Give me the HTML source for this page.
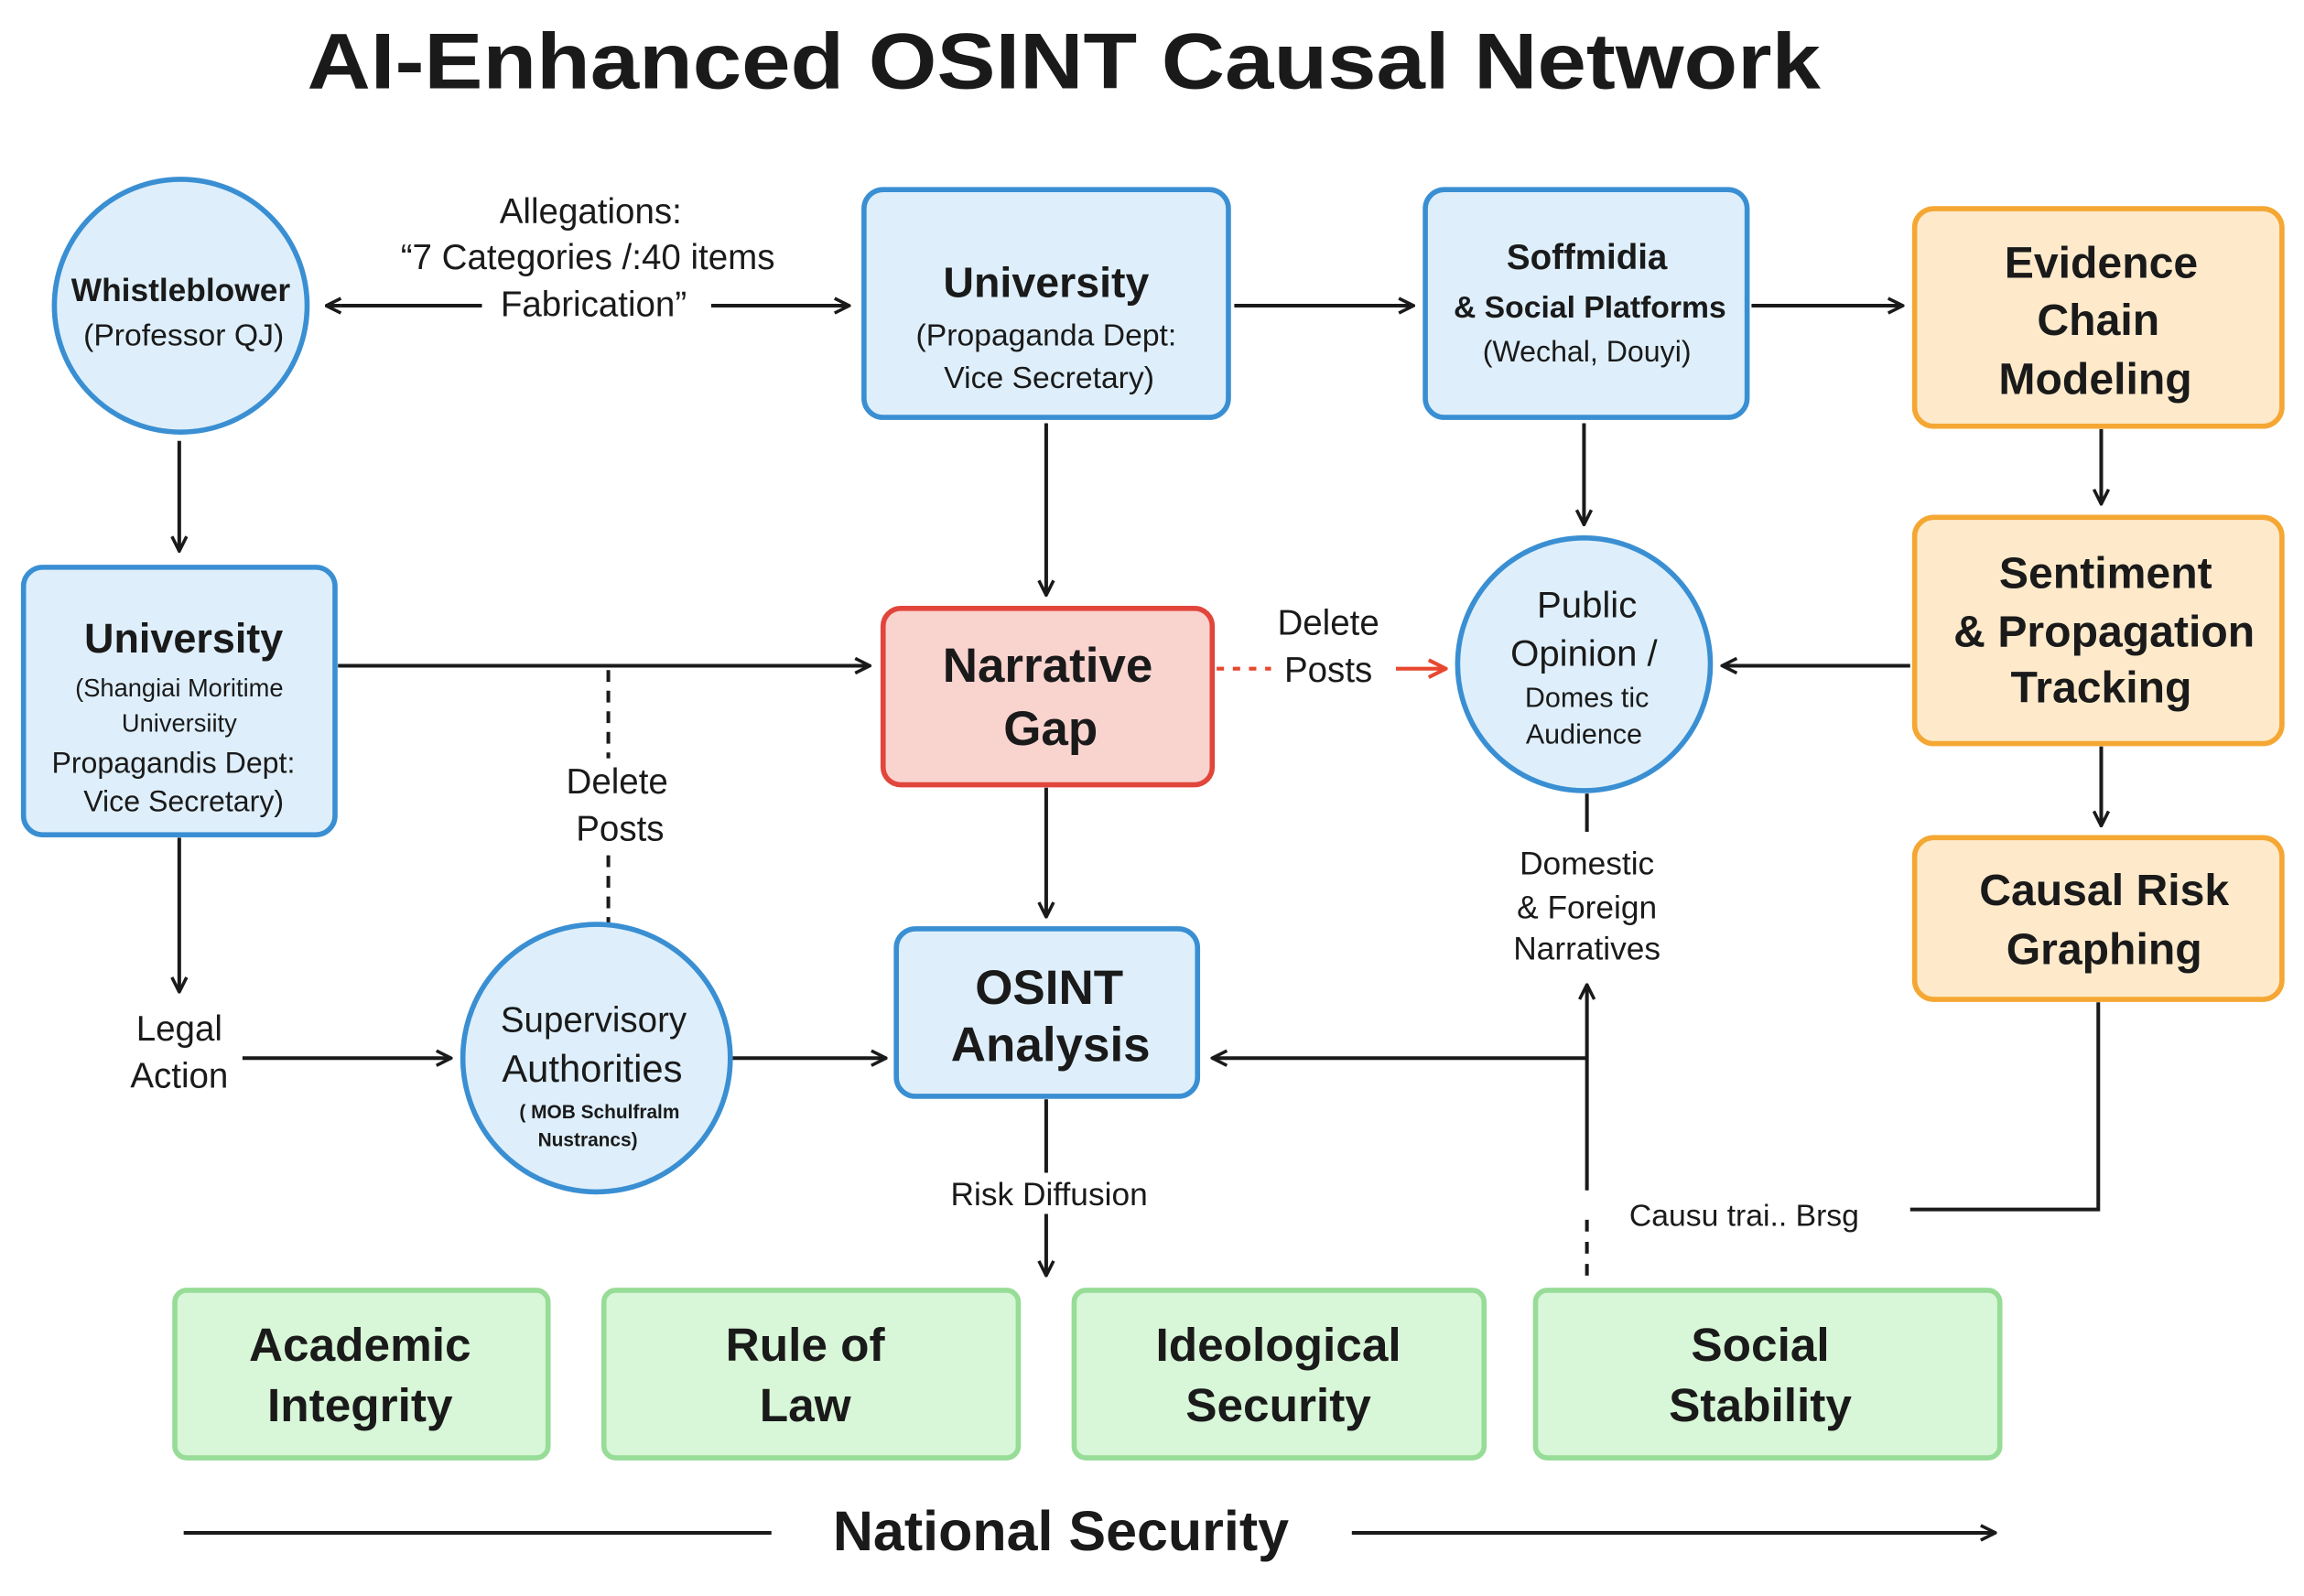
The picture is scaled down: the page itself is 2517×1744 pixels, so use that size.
<!DOCTYPE html>
<html><head><meta charset="utf-8"><style>
html,body{margin:0;padding:0;background:#fff;}
svg{display:block;}
text{font-family:"Liberation Sans",Arial,sans-serif;fill:#1a1a1a;text-anchor:middle;}
.b{font-weight:bold;}
</style></head><body>
<svg width="2517" height="1744" viewBox="0 0 1568 1086" preserveAspectRatio="none" xmlns="http://www.w3.org/2000/svg">
<defs>
<marker id="a" viewBox="0 0 12 12" refX="11" refY="6" markerWidth="12" markerHeight="12" markerUnits="userSpaceOnUse" orient="auto"><path d="M1,1 L11,6 L1,11" fill="none" stroke="#1a1a1a" stroke-width="2.2"/></marker>
<marker id="r" viewBox="0 0 12 12" refX="11" refY="6" markerWidth="14" markerHeight="14" markerUnits="userSpaceOnUse" orient="auto"><path d="M1,1 L11,6 L1,11" fill="none" stroke="#e8472f" stroke-width="2.2"/></marker>
</defs>
<text x="724" y="60" font-size="54" font-weight="bold" textLength="1030" lengthAdjust="spacingAndGlyphs">AI-Enhanced OSINT Causal Network</text>

<g stroke="#1a1a1a" stroke-width="2.5" fill="none">
<line x1="232" y1="208" x2="328" y2="208" />
<line x1="232" y1="208" x2="222" y2="208" marker-end="url(#a)"/>
<line x1="484" y1="208" x2="578" y2="208" marker-end="url(#a)"/>
<line x1="840" y1="208" x2="962" y2="208" marker-end="url(#a)"/>
<line x1="1192" y1="208" x2="1295" y2="208" marker-end="url(#a)"/>
<line x1="122" y1="300" x2="122" y2="375" marker-end="url(#a)"/>
<line x1="712" y1="288" x2="712" y2="405" marker-end="url(#a)"/>
<line x1="1078" y1="288" x2="1078" y2="357" marker-end="url(#a)"/>
<line x1="1430" y1="292" x2="1430" y2="343" marker-end="url(#a)"/>
<line x1="1430" y1="508" x2="1430" y2="562" marker-end="url(#a)"/>
<line x1="230" y1="453" x2="592" y2="453" marker-end="url(#a)"/>
<line x1="414" y1="456" x2="414" y2="628" stroke-dasharray="8,6"/>
<line x1="1300" y1="453" x2="1172" y2="453" marker-end="url(#a)"/>
<line x1="712" y1="536" x2="712" y2="624" marker-end="url(#a)"/>
<line x1="122" y1="570" x2="122" y2="675" marker-end="url(#a)"/>
<line x1="165" y1="720" x2="307" y2="720" marker-end="url(#a)"/>
<line x1="498" y1="720" x2="603" y2="720" marker-end="url(#a)"/>
<line x1="1080" y1="720" x2="825" y2="720" marker-end="url(#a)"/>
<line x1="1080" y1="810" x2="1080" y2="670" marker-end="url(#a)"/>
<line x1="1080" y1="830" x2="1080" y2="872" stroke-dasharray="8,7"/>
<line x1="1080" y1="540" x2="1080" y2="566"/>
<polyline points="1428,682 1428,823 1300,823"/>
<line x1="712" y1="748" x2="712" y2="798"/>
<line x1="712" y1="826" x2="712" y2="868" marker-end="url(#a)"/>
<line x1="125" y1="1043" x2="525" y2="1043"/>
<line x1="920" y1="1043" x2="1358" y2="1043" marker-end="url(#a)"/>
</g>
<line x1="828" y1="455" x2="865" y2="455" stroke="#e8472f" stroke-width="2.5" stroke-dasharray="5,6"/>
<line x1="950" y1="455" x2="984" y2="455" stroke="#e8472f" stroke-width="2.5" marker-end="url(#r)"/>

<g stroke="#3a8fd3" stroke-width="3.5" fill="#deeffb">
<circle cx="123" cy="208" r="86"/>
<rect x="588" y="129" width="248" height="155" rx="13"/>
<rect x="970" y="129" width="219" height="155" rx="13"/>
<rect x="16" y="386" width="212" height="182" rx="13"/>
<circle cx="1078" cy="452" r="86"/>
<circle cx="406" cy="720" r="91"/>
<rect x="610" y="632" width="205" height="114" rx="13"/>
</g>
<rect x="601" y="414" width="224" height="120" rx="12" fill="#f9d3ce" stroke="#e1453b" stroke-width="3.5"/>
<g stroke="#f5a733" stroke-width="3.5" fill="#feeacb">
<rect x="1303" y="142" width="250" height="148" rx="13"/>
<rect x="1303" y="352" width="250" height="154" rx="13"/>
<rect x="1303" y="570" width="250" height="110" rx="13"/>
</g>
<g stroke="#97dc97" stroke-width="3.5" fill="#d8f6d8">
<rect x="119" y="878" width="254" height="114" rx="8"/>
<rect x="411" y="878" width="282" height="114" rx="8"/>
<rect x="731" y="878" width="279" height="114" rx="8"/>
<rect x="1045" y="878" width="316" height="114" rx="8"/>
</g>

<g font-size="24">
<text x="402" y="152">Allegations:</text>
<text x="400" y="183">“7 Categories /:40 items</text>
<text x="404" y="215">Fabrication”</text>
<text x="123" y="205" font-size="22" class="b">Whistleblower</text>
<text x="125" y="235" font-size="21">(Professor QJ)</text>
<text x="712" y="202" font-size="29" class="b">University</text>
<text x="712" y="235" font-size="21">(Propaganda Dept:</text>
<text x="714" y="264" font-size="21">Vice Secretary)</text>
<text x="1080" y="183" font-size="24" class="b">Soffmidia</text>
<text x="1082" y="216" font-size="21" class="b">&amp; Social Platforms</text>
<text x="1080" y="246" font-size="20">(Wechal, Douyi)</text>
<text x="1430" y="189" font-size="30" class="b">Evidence</text>
<text x="1428" y="228" font-size="30" class="b">Chain</text>
<text x="1426" y="268" font-size="30" class="b">Modeling</text>
<text x="125" y="444" font-size="28" class="b">University</text>
<text x="122" y="474" font-size="17">(Shangiai Moritime</text>
<text x="122" y="498" font-size="17">Universiity</text>
<text x="118" y="526" font-size="20">Propagandis Dept:</text>
<text x="125" y="552" font-size="20">Vice Secretary)</text>
<text x="713" y="464" font-size="33" class="b">Narrative</text>
<text x="715" y="507" font-size="33" class="b">Gap</text>
<text x="904" y="432">Delete</text>
<text x="904" y="464">Posts</text>
<text x="1080" y="420" font-size="25">Public</text>
<text x="1078" y="453" font-size="25">Opinion /</text>
<text x="1080" y="481" font-size="19">Domes tic</text>
<text x="1078" y="506" font-size="19">Audience</text>
<text x="1433" y="400" font-size="30" class="b">Sentiment</text>
<text x="1432" y="440" font-size="30" class="b">&amp; Propagation</text>
<text x="1430" y="478" font-size="30" class="b">Tracking</text>
<text x="1432" y="616" font-size="30" class="b">Causal Risk</text>
<text x="1432" y="656" font-size="30" class="b">Graphing</text>
<rect x="370" y="516" width="90" height="62" fill="#fff"/>
<text x="420" y="540">Delete</text>
<text x="422" y="572">Posts</text>
<text x="1080" y="595" font-size="22">Domestic</text>
<text x="1080" y="625" font-size="22">&amp; Foreign</text>
<text x="1080" y="653" font-size="22">Narratives</text>
<text x="122" y="708">Legal</text>
<text x="122" y="740">Action</text>
<text x="404" y="702" font-size="24">Supervisory</text>
<text x="403" y="736" font-size="26">Authorities</text>
<text x="408" y="761" font-size="13" class="b">( MOB Schulfralm</text>
<text x="400" y="780" font-size="13" class="b">Nustrancs)</text>
<text x="714" y="683" font-size="33" class="b">OSINT</text>
<text x="715" y="722" font-size="33" class="b">Analysis</text>
<text x="714" y="820" font-size="22">Risk Diffusion</text>
<text x="1187" y="834" font-size="21">Causu trai.. Brsg</text>
<text x="245" y="926" font-size="32" class="b">Academic</text>
<text x="245" y="967" font-size="32" class="b">Integrity</text>
<text x="548" y="926" font-size="32" class="b">Rule of</text>
<text x="548" y="967" font-size="32" class="b">Law</text>
<text x="870" y="926" font-size="32" class="b">Ideological</text>
<text x="870" y="967" font-size="32" class="b">Security</text>
<text x="1198" y="926" font-size="32" class="b">Social</text>
<text x="1198" y="967" font-size="32" class="b">Stability</text>
<text x="722" y="1055" font-size="38" class="b">National Security</text>
</g>
</svg>
</body></html>
